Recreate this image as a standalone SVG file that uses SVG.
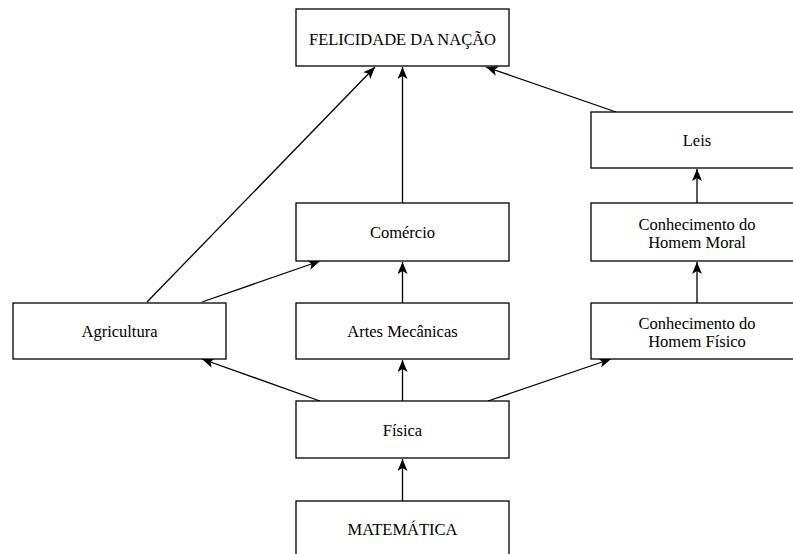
<svg xmlns="http://www.w3.org/2000/svg" width="793" height="554" viewBox="0 0 793 554">
<style>
.box{fill:#fff;stroke:#000;stroke-width:1.3}
.lbl{font-family:"Liberation Serif","Times New Roman",serif;font-size:16.5px;fill:#000;text-anchor:middle}
.edge{stroke:#000;stroke-width:1.3;fill:none;marker-end:url(#ah)}
</style>
<defs>
<marker id="ah" viewBox="0 0 12 10" refX="12" refY="5" markerWidth="12" markerHeight="10" markerUnits="userSpaceOnUse" orient="auto">
<path d="M0,0 L12,5 L0,10 L3,5 z" fill="#000"/>
</marker>
</defs>
<rect width="793" height="554" fill="#fff"/>
<g id="connectors">
<line class="edge" x1="147" y1="302" x2="375" y2="67"/>
<line class="edge" x1="202" y1="302" x2="320" y2="261"/>
<line class="edge" x1="402.5" y1="203" x2="402.5" y2="67"/>
<line class="edge" x1="616" y1="112" x2="486" y2="67"/>
<line class="edge" x1="697" y1="203" x2="697" y2="169"/>
<line class="edge" x1="697" y1="303" x2="697" y2="262"/>
<line class="edge" x1="402.5" y1="303" x2="402.5" y2="262"/>
<line class="edge" x1="320" y1="401" x2="202" y2="359"/>
<line class="edge" x1="402.5" y1="401" x2="402.5" y2="360"/>
<line class="edge" x1="488" y1="401" x2="611" y2="359"/>
<line class="edge" x1="402.5" y1="501" x2="402.5" y2="459"/>
</g>
<g id="felicidade"><rect class="box" x="296" y="9" width="213" height="57"/><text class="lbl" x="402.5" y="45">FELICIDADE DA NAÇÃO</text></g>
<g id="leis"><rect class="box" x="591" y="112" width="213" height="56"/><text class="lbl" x="697" y="146">Leis</text></g>
<g id="comercio"><rect class="box" x="296" y="203" width="213" height="58"/><text class="lbl" x="402.5" y="238">Comércio</text></g>
<g id="homem-moral"><rect class="box" x="591" y="203" width="213" height="58"/><text class="lbl" x="697" y="230">Conhecimento do</text><text class="lbl" x="697" y="248">Homem Moral</text></g>
<g id="agricultura"><rect class="box" x="13" y="303" width="213" height="56"/><text class="lbl" x="119.5" y="337">Agricultura</text></g>
<g id="artes"><rect class="box" x="296" y="303" width="213" height="56"/><text class="lbl" x="402.5" y="337">Artes Mecânicas</text></g>
<g id="homem-fisico"><rect class="box" x="591" y="303" width="213" height="56"/><text class="lbl" x="697" y="329">Conhecimento do</text><text class="lbl" x="697" y="347">Homem Físico</text></g>
<g id="fisica"><rect class="box" x="296" y="401" width="213" height="57"/><text class="lbl" x="402.5" y="436">Física</text></g>
<g id="matematica"><rect class="box" x="296" y="501" width="213" height="57"/><text class="lbl" x="402.5" y="535">MATEMÁTICA</text></g>
</svg>
